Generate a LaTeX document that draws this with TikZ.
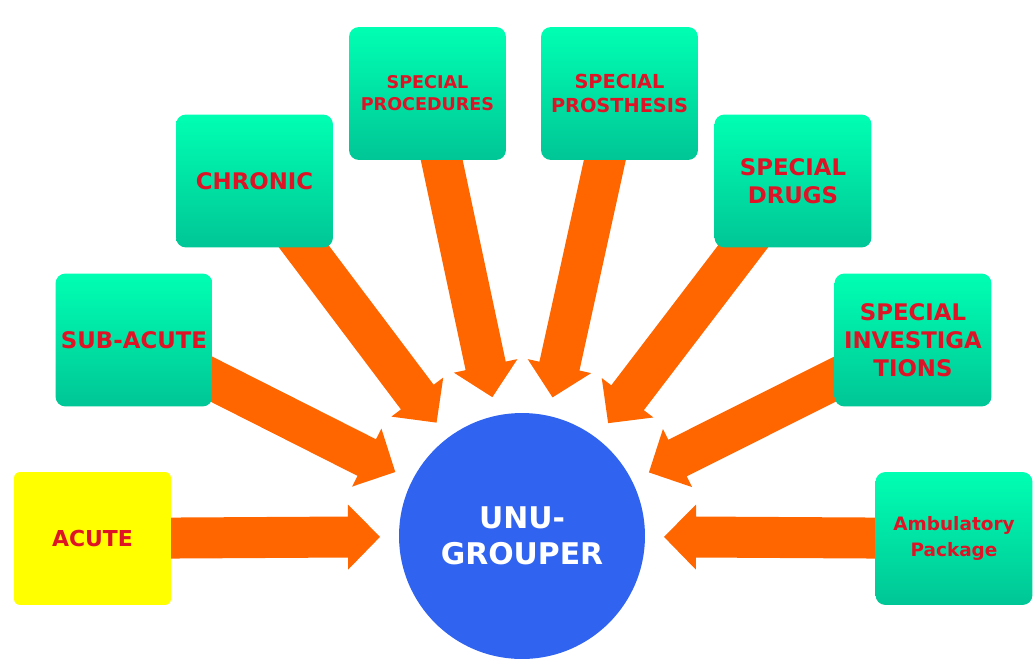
\documentclass[tikz,border=0pt]{standalone}
\usepackage{fontspec}
\setmainfont{DejaVu Sans}
\usetikzlibrary{calc,backgrounds}
\definecolor{BoxTopClr}{RGB}{0,255,178}
\definecolor{BoxBotClr}{RGB}{0,198,150}
\definecolor{AcuteClr}{RGB}{255,255,0}
\definecolor{LabelClr}{RGB}{222,20,38}
\definecolor{ArrowClr}{RGB}{255,102,0}
\definecolor{HubClr}{RGB}{48,100,240}

\begin{document}
\begin{tikzpicture}[x=0.02cm,y=-0.02cm,
  basebox/.style={rounded corners=0.2cm,minimum width=3.14cm,minimum height=2.66cm,
    inner sep=0pt,align=center,text=LabelClr,font=\bfseries\fontsize{13}{16}\selectfont},
  box/.style={basebox,top color=BoxTopClr,bottom color=BoxBotClr},
  acutebox/.style={basebox,rounded corners=0.12cm,fill=AcuteClr},
  hub/.style={circle,fill=HubClr,minimum size=4.92cm,inner sep=0pt,align=center,
    text=white,font=\bfseries\fontsize{17}{20.5}\selectfont},
  feed/.style={fill=ArrowClr}]

\useasboundingbox (0,0) rectangle (1035,664);

% hub
\node[hub] (grp) at (522,536) {UNU-\\GROUPER};

% left side
\node[acutebox,font=\bfseries\fontsize{12.5}{15}\selectfont] (acute) at (92.5,538.5) {ACUTE};
\node[box] (sub) at (134,340) {SUB-ACUTE};
\node[box] (chr) at (254.5,181) {CHRONIC};
\node[box,font=\bfseries\fontsize{10}{12.5}\selectfont] (proc) at (427.5,93.5) {SPECIAL\\PROCEDURES};

% right side
\node[box,font=\bfseries\fontsize{11}{13.5}\selectfont] (pros) at (619.5,93.5) {SPECIAL\\PROSTHESIS};
\node[box] (drug) at (793,181) {SPECIAL\\DRUGS};
\node[box] (inv) at (913,340) {SPECIAL\\INVESTIGA\\TIONS};
\node[box,font=\bfseries\fontsize{10.5}{14.5}\selectfont] (amb) at (954,538.5) {Ambulatory\\Package};

% block arrows into the hub
\begin{scope}[on background layer]
\foreach \b in {acute,sub,chr,proc,pros,drug,inv,amb}{
  \coordinate (tip) at ($(grp)!2.84cm!(\b)$);
  \coordinate (hb) at ($(grp)!3.48cm!(\b)$);
  \fill[feed] (tip) -- ($(hb)!0.65cm!90:(\b)$) -- ($(hb)!0.41cm!90:(\b)$)
    -- ($(\b.center)!0.41cm!-90:(hb)$) -- ($(\b.center)!0.41cm!90:(hb)$)
    -- ($(hb)!0.41cm!-90:(\b)$) -- ($(hb)!0.65cm!-90:(\b)$) -- cycle;
}
\end{scope}

\end{tikzpicture}
\end{document}
